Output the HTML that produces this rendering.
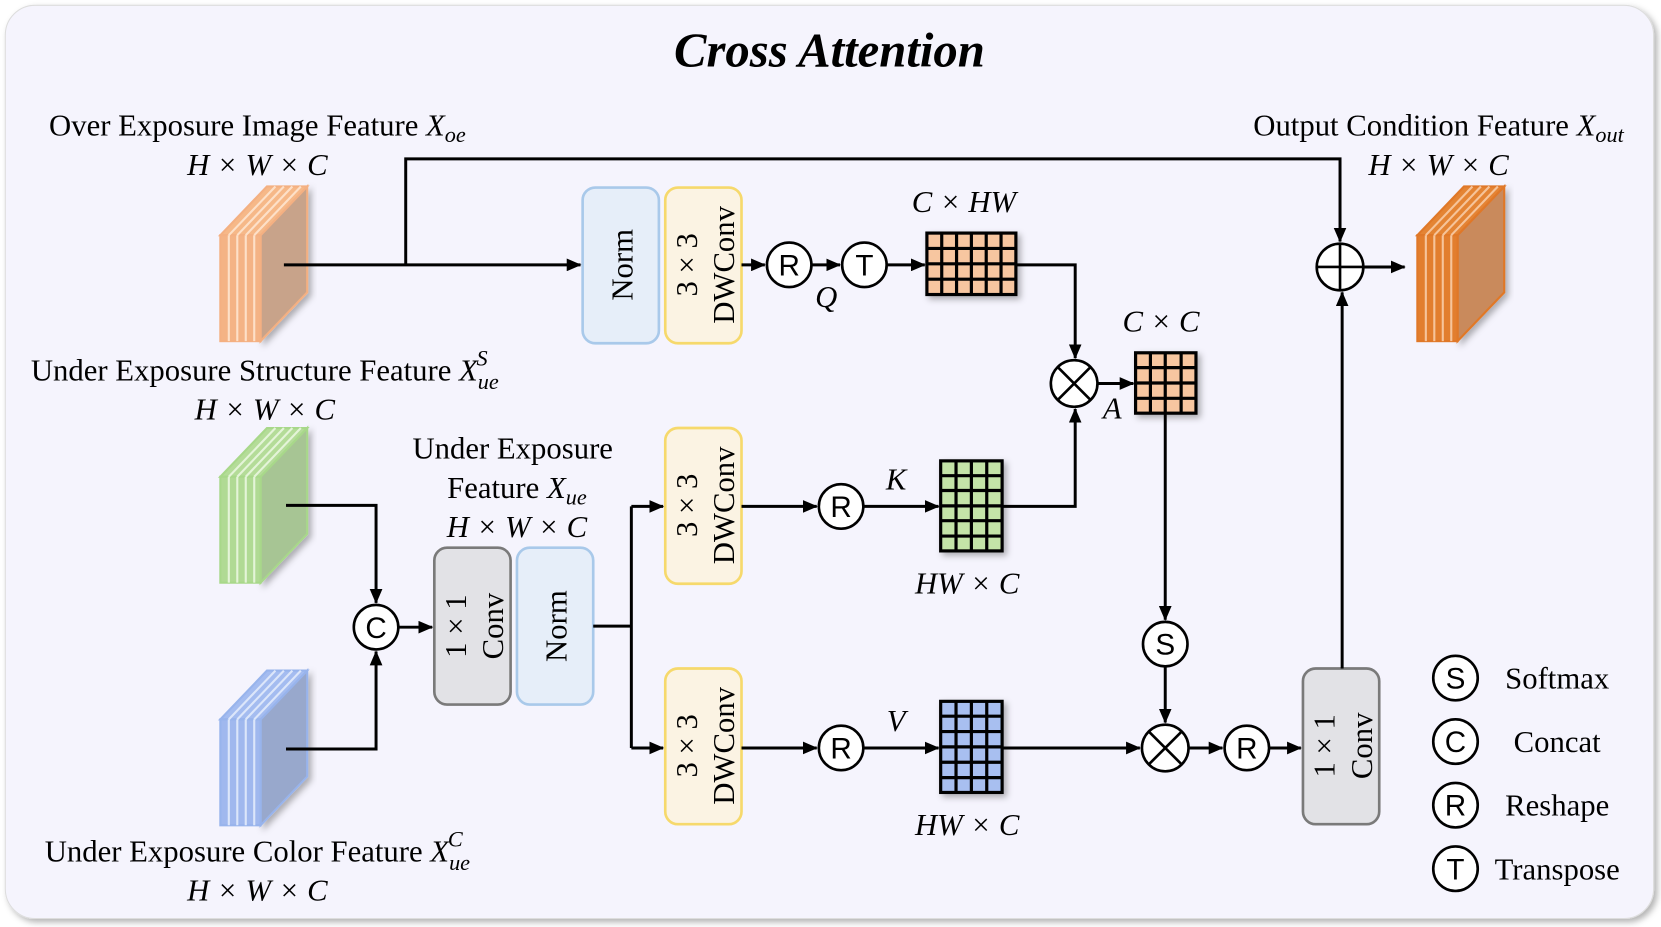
<!DOCTYPE html>
<html><head><meta charset="utf-8"><style>
html,body{margin:0;padding:0;background:#fff;}
svg{display:block;}
text{font-family:"Liberation Serif",serif;fill:#000;}
.s{font-family:"Liberation Sans",sans-serif;}
.i{font-style:italic;}
</style></head><body>
<svg width="1661" height="927" viewBox="0 0 1568 875" preserveAspectRatio="none" xmlns="http://www.w3.org/2000/svg">
<defs>
<marker id="a" markerWidth="14" markerHeight="12" refX="13" refY="6" orient="auto" markerUnits="userSpaceOnUse" viewBox="0 0 14 12"><path d="M0,0 L14,6 L0,12 z" fill="#000"/></marker>
<filter id="sh" x="-10%" y="-10%" width="130%" height="130%"><feDropShadow dx="3" dy="3" stdDeviation="3" flood-color="#000" flood-opacity="0.3"/></filter>
</defs>
<rect x="5" y="5" width="1556" height="862" rx="28" fill="#f5f4fd" stroke="#ddd" filter="url(#sh)"/>
<text x="783" y="63" font-size="46" font-weight="bold" font-style="italic" text-anchor="middle">Cross Attention</text>

<g>
<polygon points="246,222 290,176 290,276 246,322" fill="#c8a38a" stroke="#f4b082" stroke-width="2" filter="url(#sh)"/>
<polygon points="208,222 252,176 290,176 246,222" fill="#f6b888" stroke="#f4b082" stroke-width="2"/>
<rect x="208" y="222" width="38" height="100" fill="#f4b385" stroke="#f4b082" stroke-width="2"/>
<g stroke="#fde0c8" stroke-width="2"><line x1="216" y1="222" x2="216" y2="322"/><line x1="224" y1="222" x2="224" y2="322"/><line x1="232" y1="222" x2="232" y2="322"/><line x1="240" y1="222" x2="240" y2="322"/>
<line x1="216" y1="222" x2="260" y2="176"/><line x1="224" y1="222" x2="268" y2="176"/><line x1="232" y1="222" x2="276" y2="176"/><line x1="240" y1="222" x2="284" y2="176"/></g>
</g>
<g>
<polygon points="246,450 290,404 290,504 246,550" fill="#a7c594" stroke="#a8d88a" stroke-width="2" filter="url(#sh)"/>
<polygon points="208,450 252,404 290,404 246,450" fill="#b4dc98" stroke="#a8d88a" stroke-width="2"/>
<rect x="208" y="450" width="38" height="100" fill="#b0da94" stroke="#a8d88a" stroke-width="2"/>
<g stroke="#e4f4d8" stroke-width="2"><line x1="216" y1="450" x2="216" y2="550"/><line x1="224" y1="450" x2="224" y2="550"/><line x1="232" y1="450" x2="232" y2="550"/><line x1="240" y1="450" x2="240" y2="550"/>
<line x1="216" y1="450" x2="260" y2="404"/><line x1="224" y1="450" x2="268" y2="404"/><line x1="232" y1="450" x2="276" y2="404"/><line x1="240" y1="450" x2="284" y2="404"/></g>
</g>
<g>
<polygon points="246,679 290,633 290,733 246,779" fill="#98a8cc" stroke="#98b4ec" stroke-width="2" filter="url(#sh)"/>
<polygon points="208,679 252,633 290,633 246,679" fill="#a4bcf0" stroke="#98b4ec" stroke-width="2"/>
<rect x="208" y="679" width="38" height="100" fill="#a0b8ee" stroke="#98b4ec" stroke-width="2"/>
<g stroke="#dce6fa" stroke-width="2"><line x1="216" y1="679" x2="216" y2="779"/><line x1="224" y1="679" x2="224" y2="779"/><line x1="232" y1="679" x2="232" y2="779"/><line x1="240" y1="679" x2="240" y2="779"/>
<line x1="216" y1="679" x2="260" y2="633"/><line x1="224" y1="679" x2="268" y2="633"/><line x1="232" y1="679" x2="276" y2="633"/><line x1="240" y1="679" x2="284" y2="633"/></g>
</g>
<g>
<polygon points="1376,222 1420,176 1420,276 1376,322" fill="#c98a5c" stroke="#e07828" stroke-width="2" filter="url(#sh)"/>
<polygon points="1338,222 1382,176 1420,176 1376,222" fill="#e48434" stroke="#e07828" stroke-width="2"/>
<rect x="1338" y="222" width="38" height="100" fill="#e27e2e" stroke="#e07828" stroke-width="2"/>
<g stroke="#f6c49a" stroke-width="2"><line x1="1346" y1="222" x2="1346" y2="322"/><line x1="1354" y1="222" x2="1354" y2="322"/><line x1="1362" y1="222" x2="1362" y2="322"/><line x1="1370" y1="222" x2="1370" y2="322"/>
<line x1="1346" y1="222" x2="1390" y2="176"/><line x1="1354" y1="222" x2="1398" y2="176"/><line x1="1362" y1="222" x2="1406" y2="176"/><line x1="1370" y1="222" x2="1414" y2="176"/></g>
</g>

<g stroke-width="2.5">
<rect x="550" y="177" width="72" height="147" rx="12" fill="#e6eef9" stroke="#a9c9ea"/>
<rect x="628" y="177" width="72" height="147" rx="12" fill="#fbf3e3" stroke="#f6d96c"/>
<rect x="628" y="404" width="72" height="147" rx="12" fill="#fbf3e3" stroke="#f6d96c"/>
<rect x="628" y="631" width="72" height="147" rx="12" fill="#fbf3e3" stroke="#f6d96c"/>
<rect x="410" y="517" width="72" height="148" rx="12" fill="#e2e2e6" stroke="#7a7a7a"/>
<rect x="488" y="517" width="72" height="148" rx="12" fill="#e6eef9" stroke="#a9c9ea"/>
<rect x="1230" y="631" width="72" height="147" rx="12" fill="#e2e2e6" stroke="#7a7a7a"/>
</g>
<g font-size="29" text-anchor="middle">
<text transform="translate(597,250) rotate(-90)">Norm</text>
<text transform="translate(658,250) rotate(-90)">3 × 3</text>
<text transform="translate(693,250) rotate(-90)">DWConv</text>
<text transform="translate(658,477) rotate(-90)">3 × 3</text>
<text transform="translate(693,477) rotate(-90)">DWConv</text>
<text transform="translate(658,704) rotate(-90)">3 × 3</text>
<text transform="translate(693,704) rotate(-90)">DWConv</text>
<text transform="translate(440,591) rotate(-90)">1 × 1</text>
<text transform="translate(475,591) rotate(-90)">Conv</text>
<text transform="translate(535,591) rotate(-90)">Norm</text>
<text transform="translate(1260,704) rotate(-90)">1 × 1</text>
<text transform="translate(1295,704) rotate(-90)">Conv</text>
</g>

<g stroke="#000" stroke-width="3" filter="url(#sh)">
<rect x="875" y="220" width="84" height="58" fill="#f7c6a0"/>
<rect x="1072" y="333" width="57" height="57" fill="#f7c6a0"/>
<rect x="888" y="435" width="58" height="85" fill="#c4e4a8"/>
<rect x="888" y="662" width="58" height="86" fill="#a8bff0"/>
</g>
<g stroke="#000" stroke-width="3">
<path d="M889,220V278M903,220V278M917,220V278M931,220V278M945,220V278M875,234.5H959M875,249H959M875,263.5H959"/>
<path d="M1086,333V390M1100,333V390M1115,333V390M1072,347H1129M1072,361.5H1129M1072,376H1129"/>
<path d="M902.5,435V520M917,435V520M931.5,435V520M888,449H946M888,463H946M888,477.5H946M888,491.5H946M888,506H946"/>
<path d="M902.5,662V748M917,662V748M931.5,662V748M888,676H946M888,690.5H946M888,705H946M888,719.5H946M888,734H946"/>
</g>

<g stroke="#000" stroke-width="2.8" fill="none">
<path d="M268,250H548" marker-end="url(#a)"/>
<path d="M383,250V150H1265V228" marker-end="url(#a)"/>
<path d="M700,250H722" marker-end="url(#a)"/>
<path d="M766,250H793" marker-end="url(#a)"/>
<path d="M837,250H873" marker-end="url(#a)"/>
<path d="M959,250H1015V338" marker-end="url(#a)"/>
<path d="M1036,362H1070" marker-end="url(#a)"/>
<path d="M1100,390V585" marker-end="url(#a)"/>
<path d="M1100,629V682" marker-end="url(#a)"/>
<path d="M700,478H771" marker-end="url(#a)"/>
<path d="M815,478H886" marker-end="url(#a)"/>
<path d="M946,478H1015V386" marker-end="url(#a)"/>
<path d="M700,706H771" marker-end="url(#a)"/>
<path d="M815,706H886" marker-end="url(#a)"/>
<path d="M946,706H1076" marker-end="url(#a)"/>
<path d="M1122,706H1154" marker-end="url(#a)"/>
<path d="M1198,706H1228" marker-end="url(#a)"/>
<path d="M1267,631V276" marker-end="url(#a)"/>
<path d="M1287,252H1326" marker-end="url(#a)"/>
<path d="M270,477H355V569" marker-end="url(#a)"/>
<path d="M270,707H355V615" marker-end="url(#a)"/>
<path d="M376,592H408" marker-end="url(#a)"/>
<path d="M560,591H596M596,478V706"/>
<path d="M596,478H626" marker-end="url(#a)"/>
<path d="M596,706H626" marker-end="url(#a)"/>
</g>

<g stroke="#000" stroke-width="2.5" fill="#fff">
<circle cx="745" cy="250" r="21"/><circle cx="816" cy="250" r="21"/>
<circle cx="1014" cy="362" r="22"/><circle cx="1100" cy="608" r="21"/>
<circle cx="1100" cy="706" r="22"/><circle cx="794" cy="478" r="21"/>
<circle cx="794" cy="706" r="21"/><circle cx="1177" cy="706" r="21"/>
<circle cx="1265" cy="252" r="22"/><circle cx="355" cy="592" r="21"/>
<circle cx="1374" cy="640" r="21"/><circle cx="1374" cy="700" r="21"/>
<circle cx="1374" cy="760" r="21"/><circle cx="1374" cy="820" r="21"/>
</g>
<g stroke="#000" stroke-width="2.5">
<path d="M998.4,346.4L1029.6,377.6M1029.6,346.4L998.4,377.6"/>
<path d="M1084.4,690.4L1115.6,721.6M1115.6,690.4L1084.4,721.6"/>
<path d="M1243,252H1287M1265,230V274"/>
</g>
<g font-size="28" text-anchor="middle">
<text class="s" x="745" y="260">R</text><text class="s" x="816" y="260">T</text>
<text class="s" x="1100" y="618">S</text><text class="s" x="794" y="488">R</text>
<text class="s" x="794" y="716">R</text><text class="s" x="1177" y="716">R</text>
<text class="s" x="355" y="602">C</text>
<text class="s" x="1374" y="650">S</text><text class="s" x="1374" y="710">C</text>
<text class="s" x="1374" y="770">R</text><text class="s" x="1374" y="830">T</text>
</g>

<g font-size="29" text-anchor="middle">
<text x="1470" y="650">Softmax</text>
<text x="1470" y="710">Concat</text>
<text x="1470" y="770">Reshape</text>
<text x="1470" y="830">Transpose</text>
<text x="243" y="128">Over Exposure Image Feature <tspan class="i">X<tspan font-size="21" dy="6">oe</tspan></tspan></text>
<text x="243" y="165" class="i">H × W × C</text>
<text x="250" y="359">Under Exposure Structure Feature <tspan class="i">X<tspan font-size="21" dy="8">ue</tspan><tspan font-size="21" dx="-21" dy="-22">S</tspan></tspan></text>
<text x="250" y="396" class="i">H × W × C</text>
<text x="484" y="433">Under Exposure</text>
<text x="488" y="470">Feature <tspan class="i">X<tspan font-size="21" dy="6">ue</tspan></tspan></text>
<text x="488" y="507" class="i">H × W × C</text>
<text x="243" y="813">Under Exposure Color Feature <tspan class="i">X<tspan font-size="21" dy="8">ue</tspan><tspan font-size="21" dx="-21" dy="-22">C</tspan></tspan></text>
<text x="243" y="850" class="i">H × W × C</text>
<text x="1358" y="128">Output Condition Feature <tspan class="i">X<tspan font-size="21" dy="6">out</tspan></tspan></text>
<text x="1358" y="165" class="i">H × W × C</text>
<text x="910" y="200" class="i">C × HW</text>
<text x="1096" y="313" class="i">C × C</text>
<text x="913" y="560" class="i">HW × C</text>
<text x="913" y="788" class="i">HW × C</text>
<text x="780" y="290" class="i">Q</text>
<text x="1050" y="395" class="i">A</text>
<text x="846" y="462" class="i">K</text>
<text x="846" y="690" class="i">V</text>
</g>
</svg>
</body></html>
